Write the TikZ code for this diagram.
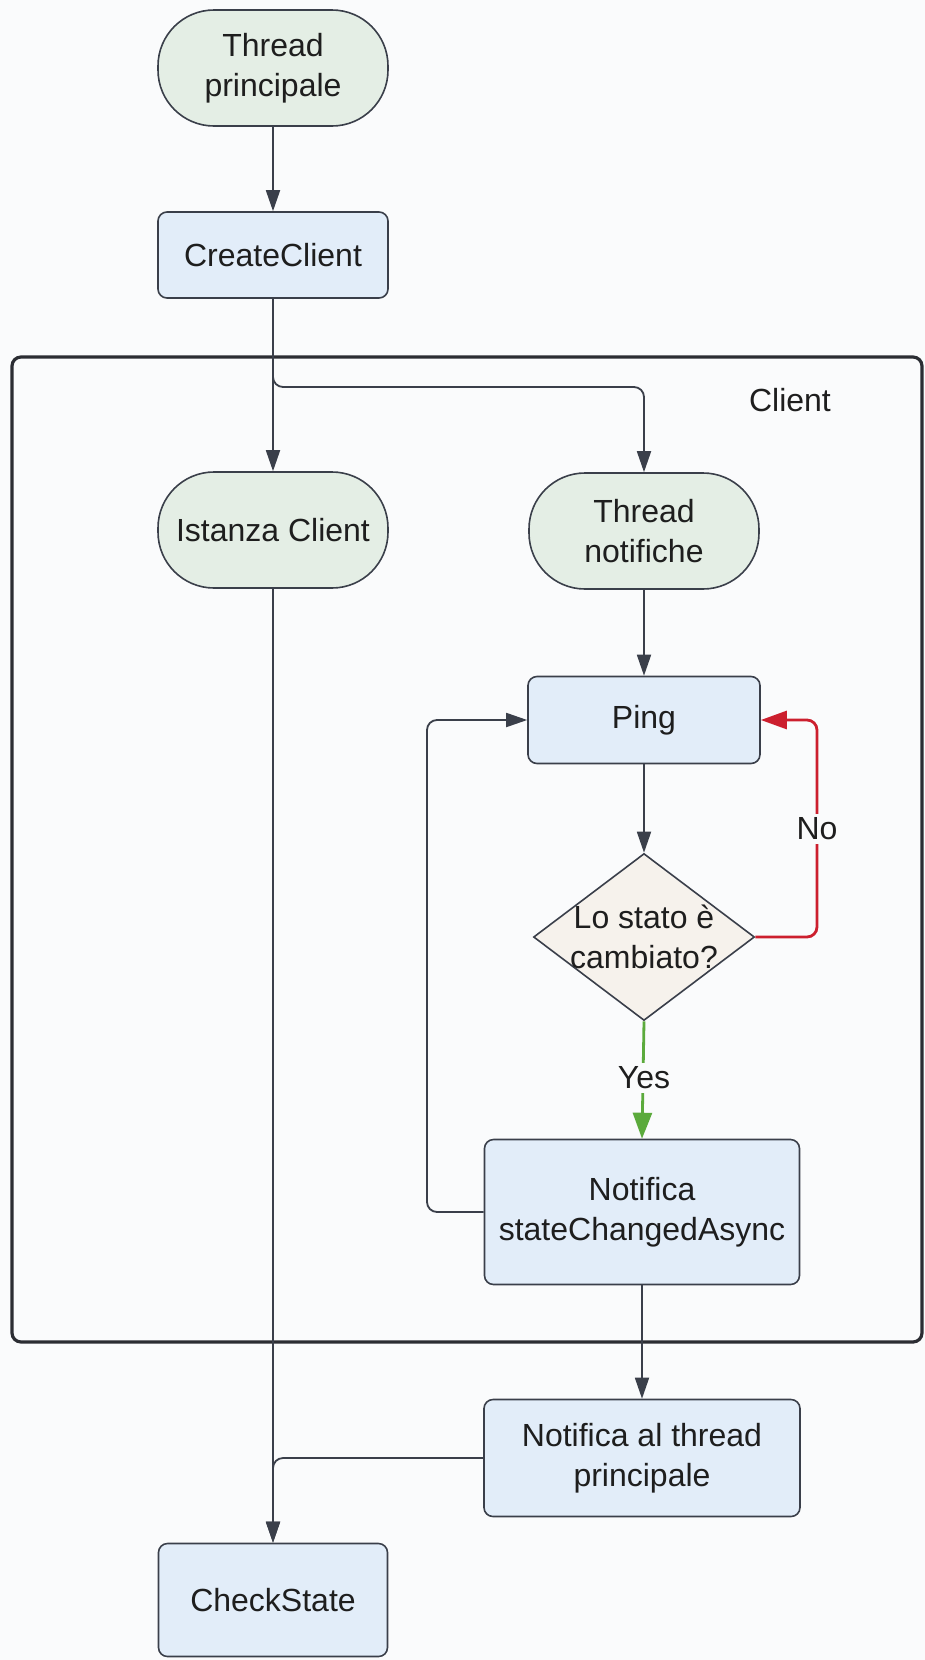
\documentclass[tikz,border=0pt]{standalone}
\usepackage{fontspec}
\setmainfont{Liberation Sans}
\usetikzlibrary{arrows.meta,shapes.geometric}
\definecolor{bg}{HTML}{FAFBFC}
\definecolor{termfill}{HTML}{E4EEE5}
\definecolor{boxfill}{HTML}{E2EDF9}
\definecolor{diafill}{HTML}{F6F2EC}
\definecolor{edge}{HTML}{3A3F4A}
\definecolor{framecol}{HTML}{2B2D33}
\definecolor{txt}{HTML}{1E1E1E}
\definecolor{nored}{HTML}{CC1F2E}
\definecolor{yesgreen}{HTML}{5BAA3C}
\begin{document}
\begin{tikzpicture}[x=1pt,y=-1pt,
 every node/.style={font=\fontsize{32}{40}\selectfont, text=txt},
 term/.style={draw=edge, line width=1.6pt, fill=termfill, rounded corners=56pt, align=center, inner sep=0pt, minimum width=230pt, minimum height=116pt},
 box/.style={draw=edge, line width=1.6pt, fill=boxfill, rounded corners=9pt, align=center, inner sep=0pt},
 dia/.style={diamond, draw=edge, line width=1.6pt, fill=diafill, inner sep=0pt, minimum width=221pt, minimum height=167pt},
 conn/.style={draw=edge, line width=1.8pt, rounded corners=10pt, -{Triangle[length=21pt,width=14pt]}},
 noconn/.style={draw=nored, line width=2.8pt, rounded corners=10pt, -{Triangle[length=26pt,width=18pt]}},
 yesconn/.style={draw=yesgreen, line width=2.8pt, -{Triangle[length=26pt,width=19pt]}},
 lbl/.style={fill=bg, inner sep=4pt},
]
\fill[bg] (0,0) rectangle (925,1660);
\useasboundingbox (0,0) rectangle (925,1660);

% frame
\draw[framecol, line width=3.2pt, rounded corners=9pt] (12,357) rectangle (922,1342);
\node (clientlbl) at (790,400) {Client};

% nodes
\node[term] (tp) at (273,68) {Thread\\principale};
\node[box, minimum width=230pt, minimum height=86pt] (cc) at (273,255) {CreateClient};
\node[term] (ist) at (273,530) {Istanza Client};
\node[term] (tn) at (644,531) {Thread\\notifiche};
\node[box, minimum width=232pt, minimum height=87pt] (ping) at (644,720) {Ping};
\node[dia] (dia) at (644,937) {};
\node[align=center] (diatext) at (644,937) {Lo stato è\\cambiato?};
\node[box, minimum width=315pt, minimum height=145pt] (nsa) at (642,1212) {Notifica\\stateChangedAsync};
\node[box, minimum width=316pt, minimum height=117pt] (ntp) at (642,1458) {Notifica al thread\\principale};
\node[box, minimum width=229pt, minimum height=113pt] (cs) at (273,1600) {CheckState};

% connectors
\coordinate (split) at (273,387);
\coordinate (noturn) at (817,720);
\coordinate (loopturn) at (427,720);

\draw[conn] (tp) -- (cc);
\draw[conn] (cc) -- (ist);
\draw[conn] (cc.south) -- (split) -| (tn.north);
\draw[conn] (tn) -- (ping);
\draw[conn] (ping) -- (dia.north);
\draw[noconn] (dia.east) -| (noturn) -- (ping.east);
\node[lbl] (nolbl) at (817,829) {No};
\draw[yesconn] (dia.south) -- (nsa.north);
\node[lbl] (yeslbl) at (644,1078) {Yes};
\draw[conn] (nsa.west) -| (loopturn) -- (ping.west);
\draw[conn] (nsa) -- (ntp);
\draw[conn] (ist) -- (cs);
\draw[conn] (ntp.west) -| (cs.north);
\end{tikzpicture}
\end{document}
